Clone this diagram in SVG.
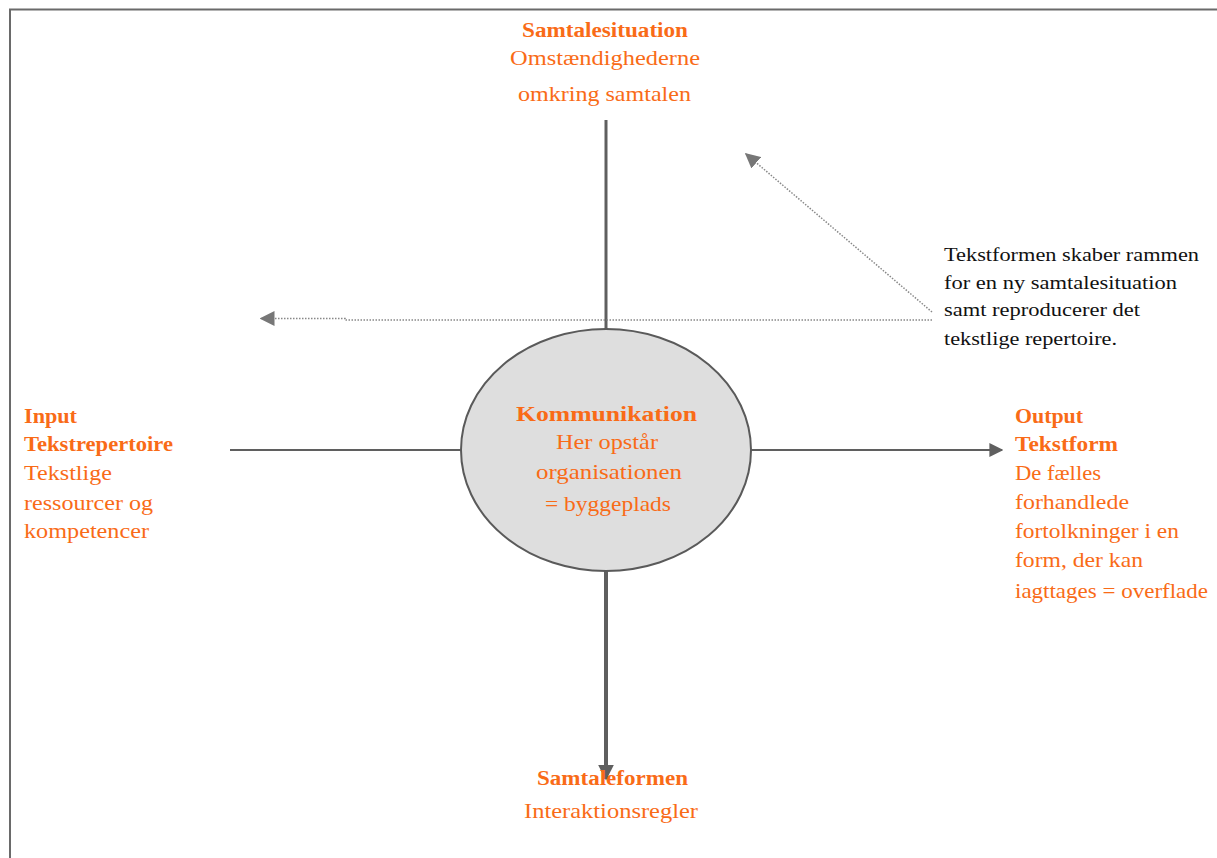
<svg xmlns="http://www.w3.org/2000/svg" width="1217" height="858" viewBox="0 0 1217 858">
  <style>
    .t { font-family: "Liberation Serif", "Times New Roman", serif; font-size: 21px; fill: #f96b17; }
    .b { font-weight: bold; font-size: 20px; }
    .note { font-family: "Liberation Serif", "Times New Roman", serif; font-size: 19px; fill: #111; }
    .solid { stroke: #5f5f5f; fill: none; }
    .dot { stroke: #888; stroke-width: 1.5; fill: none; stroke-dasharray: 1.5 1.5; }
  </style>
  <defs>
    <marker id="arrow" viewBox="0 0 10 10" refX="9" refY="5" markerWidth="4" markerHeight="4" orient="auto" markerUnits="strokeWidth">
      <path d="M0,0 L10,5 L0,10 z" fill="#5f5f5f"/>
    </marker>
    <marker id="arrowLight" viewBox="0 0 10 10" refX="9" refY="5" markerWidth="15" markerHeight="15" orient="auto" markerUnits="userSpaceOnUse">
      <path d="M0,0 L10,5 L0,10 z" fill="#777"/>
    </marker>
    <marker id="arrowOut" viewBox="0 0 10 10" refX="9" refY="5" markerWidth="14" markerHeight="14" orient="auto" markerUnits="userSpaceOnUse">
      <path d="M0,0 L10,5 L0,10 z" fill="#5f5f5f"/>
    </marker>
  </defs>

  <!-- page frame -->
  <path d="M10,858 L10,9.5 L1217,9.5" stroke="#6a6a6a" stroke-width="2" fill="none"/>

  <!-- connectors -->
  <g id="connectors">
    <line class="solid" x1="606" y1="120" x2="606" y2="330" stroke-width="3"/>
    <line class="solid" x1="230" y1="450" x2="462" y2="450" stroke-width="2"/>
    <line class="solid" x1="751" y1="450" x2="1002" y2="450" stroke-width="2" marker-end="url(#arrowOut)"/>
    <line class="solid" x1="606" y1="571" x2="606" y2="779" stroke-width="4" marker-end="url(#arrow)"/>
    <path class="dot" d="M932,320 L345,320 L345,318.5 L261,318.5" marker-end="url(#arrowLight)"/>
    <line class="dot" x1="932" y1="312" x2="746" y2="154" marker-end="url(#arrowLight)"/>
  </g>

  <g id="samtalesituation">
    <text class="t b" x="522" y="37" textLength="166" lengthAdjust="spacingAndGlyphs">Samtalesituation</text>
    <text class="t" x="510" y="65" textLength="190" lengthAdjust="spacingAndGlyphs">Omstændighederne</text>
    <text class="t" x="518" y="101" textLength="173" lengthAdjust="spacingAndGlyphs">omkring samtalen</text>
  </g>

  <g id="kommunikation">
    <ellipse cx="606" cy="450" rx="145" ry="121" fill="#dedede" stroke="#5a5a5a" stroke-width="2"/>
    <text class="t b" x="516" y="421" textLength="181" lengthAdjust="spacingAndGlyphs">Kommunikation</text>
    <text class="t" x="556" y="449" textLength="102" lengthAdjust="spacingAndGlyphs">Her opstår</text>
    <text class="t" x="536" y="479" textLength="146" lengthAdjust="spacingAndGlyphs">organisationen</text>
    <text class="t" x="545" y="511" textLength="126" lengthAdjust="spacingAndGlyphs">= byggeplads</text>
  </g>

  <g id="input">
    <text class="t b" x="24" y="423" textLength="53" lengthAdjust="spacingAndGlyphs">Input</text>
    <text class="t b" x="24" y="451" textLength="149" lengthAdjust="spacingAndGlyphs">Tekstrepertoire</text>
    <text class="t" x="24" y="480" textLength="88" lengthAdjust="spacingAndGlyphs">Tekstlige</text>
    <text class="t" x="24" y="510" textLength="129" lengthAdjust="spacingAndGlyphs">ressourcer og</text>
    <text class="t" x="24" y="538" textLength="125" lengthAdjust="spacingAndGlyphs">kompetencer</text>
  </g>

  <g id="output">
    <text class="t b" x="1015" y="423" textLength="68" lengthAdjust="spacingAndGlyphs">Output</text>
    <text class="t b" x="1015" y="451" textLength="103" lengthAdjust="spacingAndGlyphs">Tekstform</text>
    <text class="t" x="1015" y="480" textLength="86" lengthAdjust="spacingAndGlyphs">De fælles</text>
    <text class="t" x="1015" y="509" textLength="114" lengthAdjust="spacingAndGlyphs">forhandlede</text>
    <text class="t" x="1015" y="538" textLength="164" lengthAdjust="spacingAndGlyphs">fortolkninger i en</text>
    <text class="t" x="1015" y="567" textLength="128" lengthAdjust="spacingAndGlyphs">form, der kan</text>
    <text class="t" x="1015" y="598" textLength="193" lengthAdjust="spacingAndGlyphs">iagttages = overflade</text>
  </g>

  <g id="note">
    <text class="note" x="944" y="261" textLength="255" lengthAdjust="spacingAndGlyphs">Tekstformen skaber rammen</text>
    <text class="note" x="944" y="289" textLength="233" lengthAdjust="spacingAndGlyphs">for en ny samtalesituation</text>
    <text class="note" x="944" y="316" textLength="196" lengthAdjust="spacingAndGlyphs">samt reproducerer det</text>
    <text class="note" x="944" y="345" textLength="173" lengthAdjust="spacingAndGlyphs">tekstlige repertoire.</text>
  </g>

  <g id="samtaleformen">
    <text class="t b" x="537" y="785" textLength="151" lengthAdjust="spacingAndGlyphs">Samtaleformen</text>
    <text class="t" x="524" y="818" textLength="174" lengthAdjust="spacingAndGlyphs">Interaktionsregler</text>
  </g>
</svg>
